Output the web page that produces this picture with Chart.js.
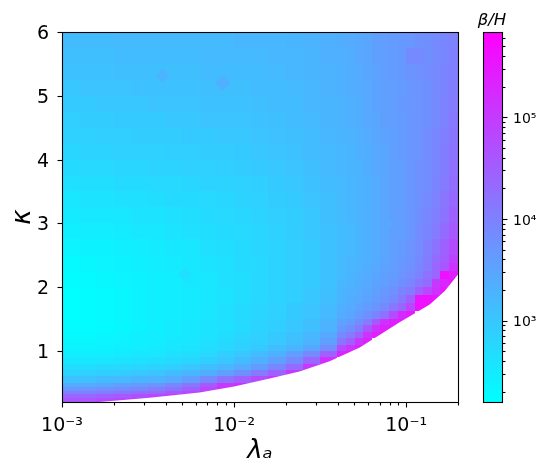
<!DOCTYPE html>
<html>
<head>
<meta charset="utf-8">
<title>beta/H</title>
<script src="https://cdn.jsdelivr.net/npm/chart.js@4"></script>
<style>
    body { margin: 0; background: #fff; }
    canvas { display: block; }
</style>
</head>
<body>
<canvas id="chart" width="546" height="476"></canvas>
<script>
// Cell edges of the heat map
const lambdaEdges = [0.001, 0.00126, 0.00158, 0.002, 0.00251, 0.00316, 0.00398, 0.00501, 0.00631, 0.00794, 0.01, 0.0126,
    0.0158, 0.02, 0.0251, 0.0316, 0.0398, 0.0447, 0.0501, 0.0562, 0.0631, 0.0708, 0.0794, 0.0891, 0.1, 0.112, 0.126,
    0.141, 0.158, 0.178, 0.2];
const kappaEdges = [6, 5.75, 5.5, 5.25, 5, 4.75, 4.5, 4.25, 4, 3.75, 3.5, 3.25, 3, 2.75, 2.5, 2.375, 2.25, 2.125, 2,
    1.875, 1.75, 1.625, 1.5, 1.4, 1.3, 1.2, 1.1, 1, 0.9, 0.8, 0.7, 0.6, 0.5, 0.44, 0.38, 0.32, 0.26, 0.2];

// log10(beta/H), one row per kappa band from the top, short rows stop at the no-data region
const logBetaH = [
    [3.15,3.15,3.15,3.18,3.18,3.18,3.18,3.18,3.18,3.18,3.22,3.22,3.22,3.26,3.29,3.33,3.36,3.40,3.44,3.47,3.55,3.58,3.62,3.66,3.69,3.77,3.80,3.87,3.91,3.98],
    [3.11,3.11,3.11,3.15,3.15,3.15,3.15,3.15,3.18,3.18,3.18,3.18,3.22,3.22,3.26,3.33,3.33,3.36,3.44,3.47,3.55,3.58,3.62,3.66,3.87,3.87,3.80,3.87,3.91,4.02],
    [3.07,3.07,3.07,3.11,3.11,3.11,3.11,3.11,3.15,3.15,3.15,3.15,3.18,3.22,3.26,3.29,3.33,3.36,3.40,3.47,3.51,3.58,3.62,3.66,3.73,3.77,3.84,3.87,3.95,4.02],
    [3.00,3.04,3.04,3.04,3.07,3.07,3.07,3.07,3.11,3.11,3.11,3.15,3.15,3.18,3.22,3.29,3.33,3.36,3.40,3.44,3.51,3.55,3.58,3.62,3.69,3.73,3.80,3.87,3.95,4.06],
    [2.96,2.96,3.00,3.00,3.00,3.04,3.04,3.04,3.07,3.07,3.07,3.11,3.15,3.15,3.22,3.26,3.29,3.33,3.36,3.44,3.51,3.55,3.58,3.66,3.69,3.73,3.80,3.87,3.98,4.09],
    [2.89,2.93,2.93,2.96,2.96,2.96,3.00,3.00,3.04,3.04,3.04,3.07,3.11,3.15,3.18,3.26,3.29,3.33,3.36,3.44,3.47,3.55,3.58,3.62,3.69,3.73,3.80,3.87,3.98,4.13],
    [2.86,2.86,2.89,2.89,2.93,2.93,2.93,2.96,2.96,3.00,3.00,3.04,3.07,3.11,3.15,3.22,3.26,3.29,3.33,3.40,3.47,3.51,3.55,3.62,3.69,3.73,3.84,3.91,4.02,4.17],
    [2.78,2.82,2.82,2.86,2.86,2.86,2.89,2.89,2.93,2.93,2.96,3.00,3.04,3.07,3.15,3.18,3.22,3.26,3.33,3.36,3.44,3.47,3.55,3.62,3.69,3.73,3.84,3.91,4.06,4.20],
    [2.71,2.75,2.75,2.78,2.78,2.82,2.82,2.86,2.86,2.89,2.93,2.96,3.00,3.04,3.11,3.18,3.22,3.26,3.29,3.36,3.44,3.47,3.55,3.58,3.69,3.77,3.84,3.91,4.06,4.24],
    [2.64,2.67,2.67,2.71,2.71,2.75,2.75,2.78,2.82,2.82,2.86,2.89,2.96,3.00,3.07,3.15,3.18,3.22,3.29,3.33,3.40,3.47,3.55,3.58,3.69,3.77,3.84,3.95,4.09,4.27],
    [2.56,2.60,2.60,2.64,2.64,2.67,2.71,2.71,2.75,2.78,2.82,2.86,2.93,2.96,3.04,3.11,3.18,3.22,3.29,3.33,3.40,3.47,3.55,3.58,3.69,3.77,3.87,3.98,4.17,4.35],
    [2.49,2.53,2.53,2.56,2.60,2.60,2.64,2.67,2.71,2.75,2.78,2.82,2.89,2.93,3.00,3.11,3.18,3.22,3.29,3.33,3.40,3.47,3.55,3.58,3.69,3.80,3.91,4.02,4.20,4.46],
    [2.42,2.45,2.45,2.49,2.53,2.56,2.60,2.64,2.67,2.71,2.75,2.78,2.86,2.93,3.00,3.07,3.15,3.18,3.26,3.33,3.40,3.47,3.55,3.58,3.69,3.84,3.95,4.09,4.31,4.57],
    [2.35,2.38,2.38,2.42,2.45,2.49,2.53,2.56,2.64,2.67,2.71,2.78,2.82,2.89,2.96,3.07,3.15,3.18,3.26,3.33,3.40,3.47,3.55,3.62,3.73,3.84,4.02,4.20,4.46,4.75],
    [2.27,2.31,2.35,2.38,2.42,2.45,2.49,2.53,2.60,2.64,2.71,2.75,2.82,2.89,2.96,3.07,3.18,3.22,3.29,3.33,3.40,3.47,3.58,3.66,3.73,3.87,4.06,4.31,4.53,4.89],
    [2.27,2.31,2.35,2.38,2.42,2.45,2.49,2.53,2.60,2.64,2.71,2.75,2.82,2.89,2.96,3.07,3.18,3.22,3.29,3.36,3.44,3.51,3.58,3.69,3.77,3.91,4.09,4.38,4.60,5.11],
    [2.24,2.27,2.31,2.35,2.38,2.42,2.45,2.53,2.56,2.64,2.67,2.75,2.82,2.89,2.96,3.07,3.18,3.26,3.33,3.40,3.47,3.55,3.62,3.73,3.84,3.98,4.24,4.38,5.62,5.40],
    [2.24,2.27,2.31,2.35,2.38,2.42,2.45,2.53,2.56,2.64,2.67,2.75,2.82,2.89,2.96,3.07,3.22,3.29,3.36,3.44,3.51,3.58,3.69,3.80,3.91,4.17,4.31,5.04,5.29,5.55],
    [2.20,2.24,2.27,2.31,2.38,2.42,2.45,2.49,2.56,2.60,2.67,2.75,2.82,2.89,3.00,3.11,3.26,3.33,3.40,3.47,3.55,3.66,3.77,3.95,4.09,4.46,4.82,5.11,5.48],
    [2.20,2.24,2.27,2.31,2.38,2.42,2.45,2.49,2.56,2.60,2.67,2.75,2.82,2.89,3.00,3.11,3.29,3.36,3.44,3.51,3.62,3.73,3.87,4.13,4.46,5.55,5.59,5.55],
    [2.20,2.24,2.27,2.31,2.38,2.42,2.45,2.49,2.56,2.64,2.71,2.78,2.86,2.96,3.04,3.18,3.33,3.40,3.51,3.62,3.73,3.87,4.13,4.38,4.82,5.59,5.62],
    [2.20,2.24,2.27,2.31,2.38,2.42,2.45,2.49,2.56,2.64,2.71,2.78,2.86,2.96,3.04,3.18,3.40,3.47,3.62,3.77,3.95,4.24,4.75,5.26,5.48],
    [2.24,2.24,2.27,2.31,2.38,2.42,2.49,2.53,2.60,2.64,2.71,2.82,2.89,3.00,3.11,3.29,3.51,3.62,3.80,4.09,4.60,5.11,5.40,5.48],
    [2.24,2.24,2.27,2.31,2.38,2.42,2.49,2.53,2.60,2.64,2.71,2.82,2.89,3.00,3.11,3.29,3.66,3.80,4.09,4.60,5.11,5.40,5.48],
    [2.27,2.27,2.31,2.35,2.42,2.45,2.49,2.56,2.60,2.67,2.78,2.86,2.96,3.07,3.22,3.44,3.87,4.09,4.46,5.11,5.40,5.48],
    [2.31,2.31,2.35,2.38,2.42,2.45,2.53,2.56,2.64,2.71,2.82,2.89,3.00,3.11,3.29,3.55,4.17,4.46,5.04,5.37],
    [2.35,2.35,2.38,2.42,2.45,2.49,2.53,2.60,2.67,2.75,2.86,2.96,3.11,3.26,3.47,3.84,4.75,5.11,5.40],
    [2.42,2.42,2.45,2.49,2.53,2.56,2.64,2.67,2.75,2.89,3.00,3.15,3.33,3.58,3.87,4.46,5.29,5.48],
    [2.53,2.53,2.56,2.60,2.64,2.67,2.71,2.78,2.89,3.00,3.15,3.33,3.55,3.87,4.38,5.18],
    [2.67,2.67,2.71,2.75,2.78,2.82,2.89,3.00,3.11,3.22,3.40,3.62,3.91,4.31,5.04,5.55],
    [2.82,2.86,2.89,2.93,3.00,3.04,3.15,3.26,3.36,3.55,3.80,4.09,4.46,5.04,5.48],
    [3.07,3.07,3.15,3.18,3.26,3.29,3.40,3.58,3.87,4.20,4.46,4.75,5.18,5.48],
    [3.40,3.40,3.47,3.55,3.62,3.73,3.91,4.17,4.57,5.04,5.18,5.40],
    [3.69,3.69,3.77,3.84,3.91,4.02,4.20,4.46,4.82,5.11,5.33],
    [4.02,4.02,4.09,4.17,4.27,4.38,4.60,4.82,5.04,5.29],
    [4.38,4.38,4.46,4.57,4.71,4.82,4.97,5.11],
    [4.60,4.64,4.75,4.86,4.93,4.97]
];

// Lower edge of the data, white below it
const limitLambda = [0.001, 0.00165, 0.00323, 0.0063, 0.01, 0.0161, 0.024, 0.0359, 0.0537, 0.0916, 0.137, 0.1676, 0.2];
const limitKappa = [0.2, 0.2, 0.266, 0.35, 0.444, 0.57, 0.68, 0.84, 1.055, 1.45, 1.73, 1.94, 2.2];

// Small outlier spots in the map
const spotLambda = [0.00384, 0.0086, 0.00519, 0.08];
const spotKappa = [5.32, 5.2, 2.2, 3.0];
const spotLogBetaH = [3.29, 3.33, 2.64, 3.47];
const spotRadius = [7, 8, 7, 5];

const lambdaTicks = [0.001, 0.002, 0.003, 0.004, 0.005, 0.006, 0.007, 0.008, 0.009, 0.01, 0.02, 0.03, 0.04, 0.05, 0.06,
    0.07, 0.08, 0.09, 0.1, 0.2];
const kappaTicks = [1, 2, 3, 4, 5, 6];
const colorbarTicks = [200, 300, 400, 500, 600, 700, 800, 900, 1000, 2000, 3000, 4000, 5000, 6000, 7000, 8000, 9000,
    10000, 20000, 30000, 40000, 50000, 60000, 70000, 80000, 90000, 100000, 200000, 300000, 400000, 500000, 600000];
const powerLabels = { 0.001: '10⁻³', 0.01: '10⁻²', 0.1: '10⁻¹', 1000: '10³', 10000: '10⁴', 100000: '10⁵' };

const colorMin = 158;
const colorMax = 690000;
const fontFamily = '"DejaVu Sans"';

// matplotlib "cool"
function coolColor(logValue) {
    const t = (logValue - Math.log10(colorMin)) / (Math.log10(colorMax) - Math.log10(colorMin));
    const c = Math.max(0, Math.min(1, t));
    return `rgb(${Math.round(255 * c)}, ${Math.round(255 * (1 - c))}, 255)`;
}

const heatCells = [];
logBetaH.forEach((row, r) => {
    row.forEach((value, c) => {
        heatCells.push({
            x: lambdaEdges[c],
            y: kappaEdges[r],
            x1: lambdaEdges[c + 1],
            y1: kappaEdges[r + 1],
            color: coolColor(value)
        });
    });
});

const heatmapPlugin = {
    id: 'heatmap',
    beforeDatasetsDraw(chart) {
        const { ctx, scales: { x, y } } = chart;
        ctx.save();
        heatCells.forEach(cell => {
            const left = Math.round(x.getPixelForValue(cell.x));
            const right = Math.round(x.getPixelForValue(cell.x1));
            const top = Math.round(y.getPixelForValue(cell.y));
            const bottom = Math.round(y.getPixelForValue(cell.y1));
            ctx.fillStyle = cell.color;
            ctx.fillRect(left, top, right - left, bottom - top);
        });
        ctx.restore();
    }
};

function drawTicks(ctx, scale, side, xPos) {
    scale.ticks.forEach(tick => {
        const p = Math.round(scale.getPixelForValue(tick.value)) + 0.5;
        const len = powerLabels[tick.value] || side === 'left' ? 5 : 3;
        ctx.beginPath();
        if (side === 'bottom') {
            ctx.moveTo(p, xPos);
            ctx.lineTo(p, xPos + len);
        } else if (side === 'left') {
            ctx.moveTo(xPos, p);
            ctx.lineTo(xPos - len, p);
        } else {
            ctx.moveTo(xPos, p);
            ctx.lineTo(xPos + len, p);
        }
        ctx.stroke();
    });
}

const framePlugin = {
    id: 'frame',
    afterDraw(chart) {
        const { ctx, chartArea: a, scales } = chart;
        ctx.save();
        ctx.strokeStyle = '#000';
        ctx.lineWidth = 1.1;

        // Main axes
        ctx.strokeRect(a.left + 0.5, a.top + 0.5, a.right - a.left, a.bottom - a.top);
        drawTicks(ctx, scales.x, 'bottom', a.bottom + 0.5);
        drawTicks(ctx, scales.y, 'left', a.left + 0.5);

        // Colorbar
        const barLeft = 483;
        const barRight = 502;
        const gradient = ctx.createLinearGradient(0, a.bottom, 0, a.top);
        gradient.addColorStop(0, 'rgb(0, 255, 255)');
        gradient.addColorStop(1, 'rgb(255, 0, 255)');
        ctx.fillStyle = gradient;
        ctx.fillRect(barLeft, a.top, barRight - barLeft, a.bottom - a.top);
        ctx.strokeRect(barLeft + 0.5, a.top + 0.5, barRight - barLeft, a.bottom - a.top);
        drawTicks(ctx, scales.cbar, 'right', barRight + 0.5);

        ctx.fillStyle = '#000';
        ctx.font = `italic 16.5px ${fontFamily}`;
        ctx.textAlign = 'center';
        ctx.textBaseline = 'alphabetic';
        ctx.fillText('β/H', 492, 25);
        ctx.restore();
    }
};

new Chart(document.getElementById('chart'), {
    data: {
        datasets: [
            {
                type: 'line',
                label: 'no data',
                data: limitLambda.map((v, i) => ({ x: v, y: limitKappa[i] })),
                borderWidth: 0,
                pointRadius: 0,
                backgroundColor: '#fff',
                fill: 'start',
                tension: 0,
                order: 1
            },
            {
                type: 'scatter',
                label: 'spots',
                data: spotLambda.map((v, i) => ({ x: v, y: spotKappa[i] })),
                pointStyle: 'rectRot',
                pointRadius: spotRadius,
                borderWidth: 0,
                pointBorderWidth: 0,
                pointBackgroundColor: spotLogBetaH.map(coolColor),
                order: 2
            }
        ]
    },
    options: {
        responsive: false,
        animation: false,
        layout: { padding: { left: 0, right: 0, top: 32, bottom: 0 } },
        plugins: { legend: { display: false }, tooltip: { enabled: false } },
        scales: {
            x: {
                type: 'logarithmic',
                min: 0.001,
                max: 0.2,
                grid: { display: false },
                border: { display: false },
                afterBuildTicks(scale) { scale.ticks = lambdaTicks.map(v => ({ value: v })); },
                afterFit(scale) { scale.height = 74; },
                ticks: {
                    autoSkip: false,
                    maxRotation: 0,
                    padding: 5,
                    color: '#000',
                    font: { family: fontFamily, size: 19 },
                    callback: v => powerLabels[v] || ''
                },
                title: {
                    display: true,
                    text: 'λₐ',
                    color: '#000',
                    font: { family: fontFamily, size: 26, style: 'italic' },
                    padding: { top: 2, bottom: 9 }
                }
            },
            y: {
                type: 'linear',
                min: 0.2,
                max: 6,
                grid: { display: false },
                border: { display: false },
                afterBuildTicks(scale) { scale.ticks = kappaTicks.map(v => ({ value: v })); },
                afterFit(scale) {
                    scale.width = 62;
                    scale.paddingTop = 0;
                    scale.paddingBottom = 0;
                },
                ticks: {
                    padding: 5,
                    labelOffset: 2,
                    color: '#000',
                    font: { family: fontFamily, size: 19 },
                    callback: v => String(v)
                },
                title: {
                    display: true,
                    text: 'κ',
                    color: '#000',
                    font: { family: fontFamily, size: 26, style: 'italic' },
                    padding: { top: 8, bottom: 0 }
                }
            },
            cbar: {
                type: 'logarithmic',
                position: 'right',
                min: colorMin,
                max: colorMax,
                grid: { display: false },
                border: { display: false },
                afterBuildTicks(scale) { scale.ticks = colorbarTicks.map(v => ({ value: v })); },
                afterFit(scale) {
                    // tick padding only shifts the labels here, it must not shrink the plot height
                    scale.width = 88;
                    scale.paddingTop = 0;
                    scale.paddingBottom = 0;
                },
                ticks: {
                    autoSkip: false,
                    padding: 47,
                    labelOffset: 2,
                    color: '#000',
                    font: { family: fontFamily, size: 14 },
                    callback: v => powerLabels[v] || ''
                }
            }
        }
    },
    plugins: [heatmapPlugin, framePlugin]
});
</script>
</body>
</html>
